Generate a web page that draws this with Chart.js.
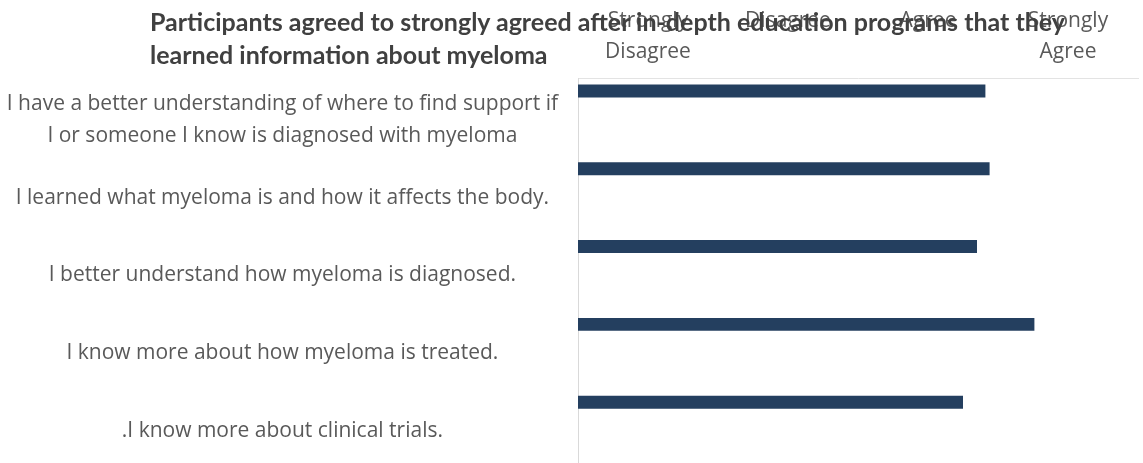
<!DOCTYPE html>
<html>
<head>
<meta charset="utf-8">
<script src="https://cdn.jsdelivr.net/npm/chart.js@4.4.1/dist/chart.umd.min.js"></script>
<style>
  html, body { margin: 0; padding: 0; background: #fff; overflow: hidden; }
  #wrap { position: relative; width: 1143px; height: 463px; overflow: hidden; }
  #title {
    position: absolute; left: 150px; top: 5px;
    font: bold 25px Lato, sans-serif; line-height: 33px;
    color: #404040; white-space: nowrap; pointer-events: none;
  }
</style>
</head>
<body>
<div id="wrap">
  <!-- plot runs slightly past the bottom edge -->
  <canvas id="surveyChart" width="1143" height="467"></canvas>
  <div id="title">Participants agreed to strongly agreed after in-depth education programs that they<br>learned information about myeloma</div>
</div>
<script>
// Survey statements (top to bottom) and their mean rating on a 1-4 scale
const statements = [
    ['I have a better understanding of where to find support if', 'I or someone I know is diagnosed with myeloma'],
    'I learned what myeloma is and how it affects the body.',
    'I better understand how myeloma is diagnosed.',
    'I know more about how myeloma is treated.',
    '.I know more about clinical trials.'
];
const meanScores = [3.41, 3.44, 3.35, 3.76, 3.25];

// Rating scale shown along the top axis
const scaleValues = [1, 2, 3, 4];
const scaleLabels = [['Strongly', 'Disagree'], 'Disagree', 'Agree', ['Strongly', 'Agree']];

const labelColor = '#595959';
const labelFont = { family: 'Open Sans', size: 21, lineHeight: 1.5 };

const ctx = document.getElementById('surveyChart').getContext('2d');
const surveyChart = new Chart(ctx, {
    type: 'bar',
    data: {
        labels: statements,
        datasets: [
            {
                label: 'Mean score',
                data: meanScores,
                backgroundColor: '#243f5f',
                barPercentage: 0.5,
                categoryPercentage: 1
            },
            // two empty series keep the bar in the top slot of each group
            { label: '', data: [], barPercentage: 0.5, categoryPercentage: 1 },
            { label: '', data: [], barPercentage: 0.5, categoryPercentage: 1 }
        ]
    },
    options: {
        indexAxis: 'y',
        responsive: false,
        animation: false,
        layout: { padding: { left: 7, right: 5, top: 4, bottom: 0 } },
        plugins: {
            legend: { display: false },
            tooltip: { enabled: false },
            title: { display: false }
        },
        scales: {
            x: {
                type: 'linear',
                position: 'top',
                min: 0.5,
                max: 4.5,
                afterBuildTicks: (scale) => {
                    scale.ticks = scaleValues.map(v => ({ value: v }));
                },
                // two label lines plus the tick padding
                afterFit: (scale) => { scale.height = 74; },
                grid: { display: false, drawTicks: false },
                border: { display: true, color: '#e3e3e3', width: 1 },
                ticks: {
                    autoSkip: false,
                    maxRotation: 0,
                    crossAlign: 'far',
                    padding: 10,
                    color: labelColor,
                    font: labelFont,
                    callback: (value) => {
                        const i = scaleValues.indexOf(value);
                        return i >= 0 ? scaleLabels[i] : '';
                    }
                }
            },
            y: {
                // fixed label column; don't let label heights shrink the plot
                afterFit: (scale) => {
                    scale.width = 571;
                    scale.paddingTop = 0;
                    scale.paddingBottom = 0;
                },
                grid: { display: false, drawTicks: true, tickLength: 20 },
                border: { display: true, color: '#d9d9d9', width: 1 },
                ticks: {
                    autoSkip: false,
                    crossAlign: 'center',
                    padding: 0,
                    labelOffset: 3,
                    color: labelColor,
                    font: labelFont
                }
            }
        }
    }
});
</script>
</body>
</html>
